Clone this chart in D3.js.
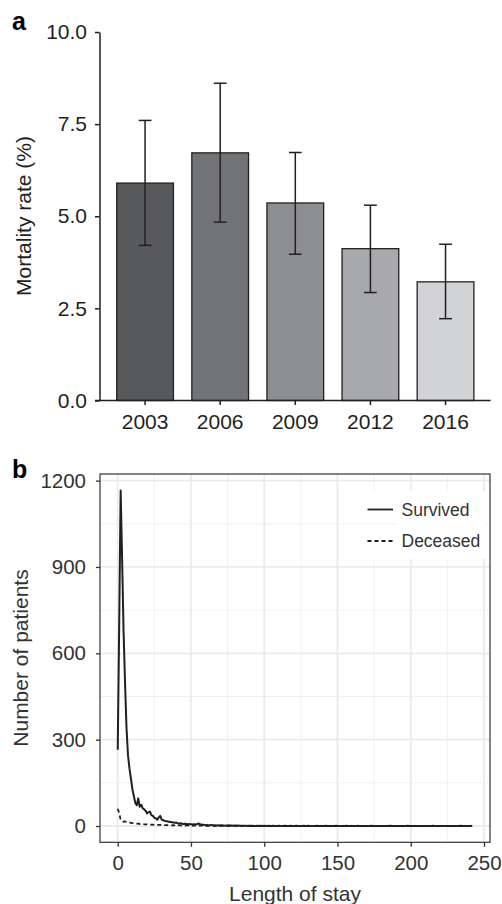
<!DOCTYPE html>
<html lang="en">
<head>
<meta charset="UTF-8">
<title>Mortality rate and length of stay</title>
<script src="https://cdn.jsdelivr.net/npm/d3@7"></script>
<style>
  body { margin: 0; background: #fff; }
  svg { display: block; font-family: "Liberation Sans", Arial, Helvetica, sans-serif; }
</style>
</head>
<body>
<div id="chart"></div>
<script>
// panel a data
var years = ["2003", "2006", "2009", "2012", "2016"];
var rates = [5.90, 6.72, 5.36, 4.12, 3.22];
var rateLow = [4.21, 4.84, 3.97, 2.93, 2.22];
var rateHigh = [7.60, 8.61, 6.73, 5.30, 4.24];
var barColors = ["#58595b", "#727377", "#8d8e91", "#a8a9ac", "#d2d3d4"];
var rateTicks = [0, 2.5, 5, 7.5, 10];

// panel b data (count per day of stay, day 0..)
var survived = [
  265, 700, 1166, 926, 674, 497, 340, 247, 200, 166,
  128, 104, 80, 72, 96, 67, 74, 62, 58, 53,
  44, 48, 50, 38, 35, 28, 27, 22, 30, 35,
  22, 20, 18, 17, 16, 15, 14, 13, 12, 11,
  12, 9, 9, 10, 8, 7, 8, 7, 6, 7,
  6, 5, 6, 5, 6, 9, 6, 5, 4, 4,
  3, 4, 2, 3, 4, 2, 3, 2, 2, 3,
  2, 3, 2, 1, 2, 2, 3, 1, 2, 1,
  2, 1, 2, 1, 1, 0, 1, 1, 0, 1,
  1, 0, 1, 0, 0, 1, 0, 1, 0, 0,
  1, 0, 0, 1, 0, 0, 1, 0, 0, 0,
  1, 0, 0, 0, 1, 0, 0, 0, 1, 0,
  0, 0, 1, 0, 0, 0, 0, 1, 0, 0,
  1, 0, 0, 0, 0, 0, 1, 0, 0, 0,
  0, 0, 1, 0, 0, 0, 0, 0, 0, 1,
  0, 0, 0, 0, 0, 0, 1, 0, 0, 0,
  0, 0, 0, 0, 1, 0, 0, 0, 0, 0,
  0, 0, 0, 1, 0, 0, 0, 0, 0, 0,
  0, 0, 0, 0, 0, 0, 1, 0, 0, 0,
  0, 0, 0, 0, 0, 0, 0, 0, 1, 0,
  0, 0, 0, 0, 0, 0, 0, 0, 0, 0,
  0, 0, 0, 0, 0, 1, 0, 0, 0, 0,
  0, 0, 0, 0, 0, 0, 0, 0, 0, 0,
  0, 0, 0, 0, 1, 0, 0, 0, 0, 0,
  0, 0, 1
];
var deceased = [
  60, 45, 22, 18, 15, 16, 14, 13, 12, 11,
  10, 9, 9, 8, 8, 7, 7, 7, 6, 6,
  6, 5, 5, 5, 5, 4, 4, 4, 4, 4,
  3, 4, 3, 3, 3, 3, 3, 2, 3, 2,
  3, 2, 2, 2, 2, 2, 1, 2, 2, 1,
  2, 1, 2, 1, 1, 2, 1, 1, 1, 1,
  1, 0, 1, 1, 0, 1, 0, 1, 0, 1,
  0, 1, 0, 0, 1, 0, 0, 1, 0, 0,
  1, 0, 0, 0, 0, 1, 0, 0, 0, 0,
  0, 1, 0, 0, 0, 0, 0, 0, 1, 0,
  0, 0, 0, 0, 0, 0, 0, 0, 0, 0
];
var stayTicks = [0, 50, 100, 150, 200, 250];
var stayMinor = [25, 75, 125, 175, 225];
var countTicks = [0, 300, 600, 900, 1200];
var countMinor = [150, 450, 750, 1050];
var legendLabels = ["Survived", "Deceased"];

var ink = "#231f20";
var svg = d3.select("#chart").append("svg")
  .attr("width", 502)
  .attr("height", 904);

// ---------- panel a ----------
var xA = d3.scaleBand().domain(years).range([100, 490.6])
  .paddingInner(0.245).paddingOuter(0.2225);
var yA = d3.scaleLinear().domain([0, 10]).range([400.5, 32]);

var gA = svg.append("g");

gA.selectAll("rect.bar")
  .data(years)
  .enter().append("rect")
    .attr("class", "bar")
    .attr("x", d => xA(d))
    .attr("width", xA.bandwidth())
    .attr("y", (d, i) => yA(rates[i]))
    .attr("height", (d, i) => yA(0) - yA(rates[i]))
    .attr("fill", (d, i) => barColors[i])
    .attr("stroke", ink)
    .attr("stroke-width", 1.3);

// error bars
var cap = xA.bandwidth() * 0.225;
years.forEach(function(d, i) {
  var cx = xA(d) + xA.bandwidth() / 2;
  gA.append("line")
    .attr("x1", cx).attr("x2", cx)
    .attr("y1", yA(rateLow[i])).attr("y2", yA(rateHigh[i]))
    .attr("stroke", ink).attr("stroke-width", 1.5);
  [rateLow[i], rateHigh[i]].forEach(function(v) {
    gA.append("line")
      .attr("x1", cx - cap / 2).attr("x2", cx + cap / 2)
      .attr("y1", yA(v)).attr("y2", yA(v))
      .attr("stroke", ink).attr("stroke-width", 1.5);
  });
});

// axes
var yAxisA = gA.append("g")
  .attr("transform", "translate(99.5,0)")
  .call(d3.axisLeft(yA).tickValues(rateTicks).tickFormat(d3.format(".1f"))
    .tickSize(4.5).tickSizeOuter(0).tickPadding(8));
var xAxisA = gA.append("g")
  .attr("transform", "translate(0," + yA(0) + ")")
  .call(d3.axisBottom(xA).tickSize(4.5).tickSizeOuter(0).tickPadding(9));
xAxisA.select(".domain").remove();
gA.append("line")
  .attr("x1", 95).attr("x2", 490.6)
  .attr("y1", yA(0)).attr("y2", yA(0))
  .attr("stroke", ink).attr("stroke-width", 1.5);

[yAxisA, xAxisA].forEach(function(ax) {
  ax.selectAll("path, line").attr("stroke", ink).attr("stroke-width", 1.5);
  ax.selectAll("text")
    .attr("fill", ink)
    .style("font-size", "21px")
    .style("font-family", "'Liberation Sans', Arial, sans-serif");
});

gA.append("text")
  .attr("transform", "translate(31,216) rotate(-90)")
  .attr("text-anchor", "middle")
  .attr("fill", ink)
  .style("font-size", "21px")
  .text("Mortality rate (%)");

svg.append("text")
  .attr("x", 12).attr("y", 30)
  .attr("font-weight", "bold")
  .style("font-size", "25px")
  .attr("fill", "#000")
  .text("a");

// ---------- panel b ----------
var xB = d3.scaleLinear().domain([-12.1, 254.1]).range([100, 490]);
var yB = d3.scaleLinear().domain([-56.6, 1223]).range([842.3, 474]);
var gB = svg.append("g");

// minor grid
gB.selectAll("line.vminor").data(stayMinor).enter().append("line")
  .attr("x1", d => xB(d)).attr("x2", d => xB(d))
  .attr("y1", yB.range()[1]).attr("y2", yB.range()[0])
  .attr("stroke", "#eeeeee").attr("stroke-width", 0.9);
gB.selectAll("line.hminor").data(countMinor).enter().append("line")
  .attr("x1", xB.range()[0]).attr("x2", xB.range()[1])
  .attr("y1", d => yB(d)).attr("y2", d => yB(d))
  .attr("stroke", "#eeeeee").attr("stroke-width", 0.9);
// major grid
gB.selectAll("line.vmajor").data(stayTicks).enter().append("line")
  .attr("x1", d => xB(d)).attr("x2", d => xB(d))
  .attr("y1", yB.range()[1]).attr("y2", yB.range()[0])
  .attr("stroke", "#ebebeb").attr("stroke-width", 1.8);
gB.selectAll("line.hmajor").data(countTicks).enter().append("line")
  .attr("x1", xB.range()[0]).attr("x2", xB.range()[1])
  .attr("y1", d => yB(d)).attr("y2", d => yB(d))
  .attr("stroke", "#ebebeb").attr("stroke-width", 1.8);

// legend backgrounds (cover the grid)
gB.append("rect").attr("x", 364).attr("y", 491).attr("width", 33).attr("height", 31).attr("fill", "#fff");
gB.append("rect").attr("x", 364).attr("y", 525).attr("width", 33).attr("height", 34).attr("fill", "#fff");
gB.append("rect").attr("x", 397).attr("y", 491).attr("width", 89).attr("height", 68).attr("fill", "#fff");

var lineB = d3.line()
  .x((d, i) => xB(i))
  .y(d => yB(d));

gB.append("path")
  .datum(deceased)
  .attr("fill", "none")
  .attr("stroke", ink)
  .attr("stroke-width", 1.8)
  .attr("stroke-dasharray", "4,3")
  .attr("d", lineB);

gB.append("path")
  .datum(survived)
  .attr("fill", "none")
  .attr("stroke", ink)
  .attr("stroke-width", 2)
  .attr("stroke-linejoin", "round")
  .attr("d", lineB);

// panel border
gB.append("rect")
  .attr("x", xB.range()[0]).attr("y", yB.range()[1])
  .attr("width", xB.range()[1] - xB.range()[0])
  .attr("height", yB.range()[0] - yB.range()[1])
  .attr("fill", "none")
  .attr("stroke", "#333")
  .attr("stroke-width", 1.2);

var yAxisB = gB.append("g")
  .attr("transform", "translate(" + xB.range()[0] + ",0)")
  .call(d3.axisLeft(yB).tickValues(countTicks).tickFormat(d3.format("d"))
    .tickSize(4).tickSizeOuter(0).tickPadding(10));
var xAxisB = gB.append("g")
  .attr("transform", "translate(0," + yB.range()[0] + ")")
  .call(d3.axisBottom(xB).tickValues(stayTicks).tickFormat(d3.format("d"))
    .tickSize(4.5).tickSizeOuter(0).tickPadding(9));
[yAxisB, xAxisB].forEach(function(ax) {
  ax.select(".domain").remove();
  ax.selectAll("line").attr("stroke", "#333").attr("stroke-width", 1.3);
  ax.selectAll("text")
    .attr("fill", "#333")
    .style("font-size", "20.5px")
    .style("font-family", "'Liberation Sans', Arial, sans-serif");
});

gB.append("text")
  .attr("transform", "translate(27.5,658) rotate(-90)")
  .attr("text-anchor", "middle")
  .attr("fill", "#333")
  .style("font-size", "21px")
  .text("Number of patients");

gB.append("text")
  .attr("x", 295).attr("y", 901)
  .attr("text-anchor", "middle")
  .attr("fill", "#333")
  .style("font-size", "21px")
  .text("Length of stay");

// legend
var legendY = [509.5, 541];
legendLabels.forEach(function(lab, i) {
  gB.append("line")
    .attr("x1", 367.5).attr("x2", 393)
    .attr("y1", legendY[i]).attr("y2", legendY[i])
    .attr("stroke", ink)
    .attr("stroke-width", 1.8)
    .attr("stroke-dasharray", i === 1 ? "4,3" : null);
  gB.append("text")
    .attr("x", 401.5).attr("y", legendY[i])
    .attr("dy", "0.35em")
    .attr("fill", "#333")
    .style("font-size", "17.5px")
    .text(lab);
});

svg.append("text")
  .attr("x", 12).attr("y", 478)
  .attr("font-weight", "bold")
  .style("font-size", "25px")
  .attr("fill", "#000")
  .text("b");
</script>
</body>
</html>
